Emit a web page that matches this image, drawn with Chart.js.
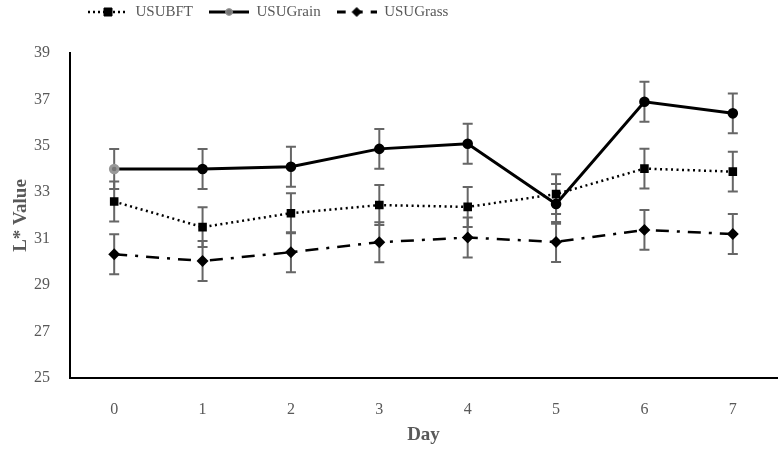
<!DOCTYPE html>
<html>
<head>
<meta charset="utf-8">
<script src="https://cdn.jsdelivr.net/npm/chart.js"></script>
<style>
  html, body { margin: 0; padding: 0; background: #fff; }
  #wrap { width: 784px; height: 449px; position: relative; }
</style>
</head>
<body>
<div id="wrap"><canvas id="chart"></canvas></div>
<script>
// data
const days = ['0', '1', '2', '3', '4', '5', '6', '7'];
const usuBFT   = [32.6, 31.5, 32.1, 32.45, 32.37, 32.92, 34.02, 33.89];
const usuGrain = [34.0, 34.0, 34.1, 34.87, 35.09, 32.5, 36.9, 36.4];
const usuGrass = [30.33, 30.04, 30.42, 30.85, 31.05, 30.86, 31.38, 31.2];
const bftErr   = [0.86, 0.86, 0.86, 0.86, 0.86, 0.86, 0.86, 0.86];
const grainErr = [0.86, 0.86, 0.86, 0.86, 0.86, 0.86, 0.86, 0.86];
const grassErr = [0.86, 0.86, 0.86, 0.86, 0.86, 0.86, 0.86, 0.86];
const yTicks = [25, 27, 29, 31, 33, 35, 37, 39];

const grey = '#595959';
const serif = "'Liberation Serif', 'Times New Roman', serif";

// legend swatch: line + marker drawn on a small canvas
function swatch(dash, width, marker, fill, stroke) {
    const c = document.createElement('canvas');
    c.width = 40; c.height = 12;
    const ctx = c.getContext('2d');
    ctx.strokeStyle = '#000';
    ctx.lineWidth = width;
    ctx.setLineDash(dash);
    ctx.beginPath();
    ctx.moveTo(0, 6); ctx.lineTo(40, 6);
    ctx.stroke();
    ctx.setLineDash([]);
    ctx.fillStyle = fill;
    ctx.strokeStyle = stroke;
    ctx.lineWidth = 1;
    ctx.beginPath();
    if (marker === 'rect') ctx.rect(16, 2, 8, 8);
    else if (marker === 'circle') ctx.arc(20, 6, 3.4, 0, Math.PI * 2);
    else { ctx.moveTo(20, 1.5); ctx.lineTo(24.5, 6); ctx.lineTo(20, 10.5); ctx.lineTo(15.5, 6); ctx.closePath(); }
    ctx.fill();
    ctx.stroke();
    return c;
}

const errorBars = {
    id: 'errorBars',
    beforeDatasetsDraw(chart) {
        const ctx = chart.ctx;
        const y = chart.scales.y;
        ctx.save();
        ctx.strokeStyle = '#666';
        ctx.lineWidth = 2;
        chart.data.datasets.forEach((ds, i) => {
            const meta = chart.getDatasetMeta(i);
            meta.data.forEach((pt, j) => {
                const top = y.getPixelForValue(ds.data[j] + ds.errors[j]);
                const bot = y.getPixelForValue(ds.data[j] - ds.errors[j]);
                ctx.beginPath();
                ctx.moveTo(pt.x, top); ctx.lineTo(pt.x, bot);
                ctx.moveTo(pt.x - 5, top); ctx.lineTo(pt.x + 5, top);
                ctx.moveTo(pt.x - 5, bot); ctx.lineTo(pt.x + 5, bot);
                ctx.stroke();
            });
        });
        ctx.restore();
    }
};

// legend sits left of centre, near the top edge
const legendPlace = {
    id: 'legendPlace',
    afterLayout(chart) {
        const lg = chart.legend;
        const pad = lg.options.labels.padding;
        lg.left = 88 - pad;
        lg.top = 12 - pad - 7.5;
    }
};

new Chart(document.getElementById('chart'), {
    type: 'line',
    data: {
        labels: days,
        datasets: [
            {
                label: 'USUBFT', data: usuBFT, errors: bftErr,
                borderColor: '#000', borderWidth: 2.5, borderDash: [2, 3.5],
                pointStyle: 'rect', pointRadius: 4.3, pointBackgroundColor: '#000', pointBorderColor: '#000',
                legendSwatch: swatch([2, 3], 2.5, 'rect', '#000', '#000')
            },
            {
                label: 'USUGrain', data: usuGrain, errors: grainErr,
                borderColor: '#000', borderWidth: 3,
                pointStyle: 'circle', pointRadius: 3.8,
                pointBackgroundColor: ['#777', '#000', '#000', '#000', '#000', '#000', '#000', '#000'],
                pointBorderColor: ['#999', '#000', '#000', '#000', '#000', '#000', '#000', '#000'],
                legendSwatch: swatch([], 3, 'circle', '#777', '#999')
            },
            {
                label: 'USUGrass', data: usuGrass, errors: grassErr,
                borderColor: '#000', borderWidth: 2.5, borderDash: [13, 8, 3, 8],
                pointStyle: 'rectRot', pointRadius: 4.2, pointBackgroundColor: '#000', pointBorderColor: '#000',
                legendSwatch: swatch([9, 8], 3, 'diamond', '#000', '#000')
            }
        ]
    },
    options: {
        responsive: true,
        maintainAspectRatio: false,
        animation: false,
        layout: { padding: { left: 8, right: 2, top: 12, bottom: 0 } },
        plugins: {
            tooltip: { enabled: false },
            legend: {
                position: 'top',
                align: 'start',
                labels: {
                    font: { family: serif, size: 15 },
                    color: grey,
                    usePointStyle: true,
                    pointStyleWidth: 40,
                    padding: 16,
                    generateLabels(chart) {
                        return chart.data.datasets.map((ds, i) => ({
                            text: ds.label,
                            pointStyle: ds.legendSwatch,
                            fontColor: grey,
                            lineWidth: 0,
                            strokeStyle: 'transparent',
                            fillStyle: 'transparent',
                            datasetIndex: i
                        }));
                    }
                }
            }
        },
        scales: {
            x: {
                offset: true,
                afterFit(scale) { scale.height = 71; },
                grid: { display: false, drawTicks: false },
                border: { color: '#000', width: 2 },
                ticks: { color: grey, font: { family: serif, size: 16 }, padding: 22 },
                title: { display: true, text: 'Day', color: grey, font: { family: serif, size: 19, weight: 'bold' }, padding: { top: 0, bottom: 3 } }
            },
            y: {
                min: 25, max: 39,
                afterFit(scale) { scale.width = 62; },
                afterBuildTicks(scale) { scale.ticks = yTicks.map(v => ({ value: v })); },
                grid: { display: false, drawTicks: false },
                border: { color: '#000', width: 2 },
                ticks: { color: grey, font: { family: serif, size: 16 }, padding: 20 },
                title: { display: true, text: 'L* Value', color: grey, font: { family: serif, size: 19, weight: 'bold' }, padding: { top: 2, bottom: 0 } }
            }
        }
    },
    plugins: [errorBars, legendPlace]
});
</script>
</body>
</html>
